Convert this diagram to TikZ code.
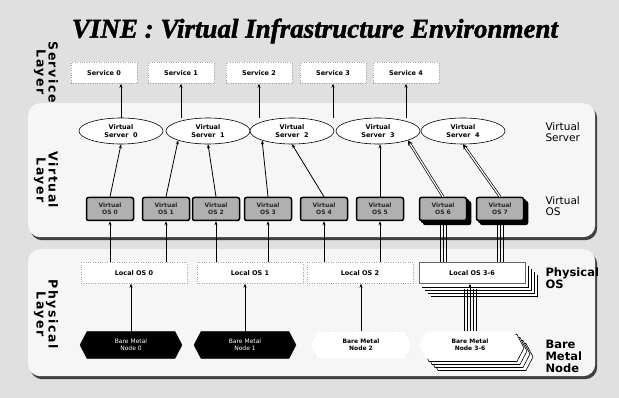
\documentclass[tikz,border=0pt]{standalone}
\usepackage{fontspec}
\setmainfont{Liberation Serif}
\setsansfont{DejaVu Sans}
\newfontfamily\titlefont[BoldItalicFeatures={FakeBold=1.6}]{Liberation Serif}
\newfontfamily\layerfont[BoldFeatures={LetterSpace=12}]{DejaVu Sans}
\usetikzlibrary{shapes.geometric,shapes.symbols,arrows.meta,shadows}
\tikzset{
  px/.style={x=1pt,y=-1pt},
  panel/.style={fill=white!93!gray,draw=none,rounded corners=12pt,
    drop shadow={shadow xshift=2pt,shadow yshift=-3pt,fill=black!75,opacity=1}},
  svcbox/.style={draw=gray!70,dotted,fill=white,minimum width=66pt,minimum height=21pt,font=\sffamily\bfseries\fontsize{6.5}{7}\selectfont,inner sep=1pt},
  vserver/.style={ellipse,draw=black,fill=white,line width=0.6pt,minimum width=84pt,minimum height=26pt,inner sep=0pt,align=center,font=\sffamily\bfseries\fontsize{6.5}{7.2}\selectfont},
  vos/.style={draw=black,line width=1.5pt,fill=gray!62,rounded corners=2pt,minimum width=47pt,minimum height=23pt,inner sep=0pt,align=center,font=\sffamily\bfseries\fontsize{6}{6.5}\selectfont,text=black!85},
  vosstack/.style={vos,double copy shadow={shadow xshift=2pt,shadow yshift=-2pt,fill=black,draw=black}},
  localos/.style={draw=gray!70,dotted,fill=white,minimum width=106pt,minimum height=21pt,font=\sffamily\bfseries\fontsize{6.5}{7}\selectfont,inner sep=1pt},
  localfront/.style={localos,draw=black!60,solid,line width=0.4pt},
  stackrect/.style={draw=black,fill=white,line width=0.6pt},
  bare/.style={signal,signal to=west and east,signal pointer angle=125,fill=black,draw=black,text=white,minimum width=102pt,minimum height=27pt,inner sep=1pt,align=center,font=\sffamily\fontsize{6}{6.8}\selectfont},
  barew/.style={bare,fill=white,draw=gray!70,dotted,text=black,font=\sffamily\bfseries\fontsize{6}{6.8}\selectfont},
  barestack/.style={bare,fill=white,draw=black,line width=0.6pt},
  conn/.style={-{Stealth[length=4pt,width=3pt]},line width=0.8pt,black},
  dconn/.style={-{Stealth[length=5pt,width=5pt]},double=white,double distance=1.2pt,line width=0.7pt,black},
  tconn/.style={line width=0.6pt,black},
  layer/.style={rotate=-90,font=\layerfont\bfseries\fontsize{12.5}{12}\selectfont,align=center},
  rlabel/.style={anchor=west,align=left,font=\sffamily\fontsize{10.5}{11}\selectfont},
  rlabelb/.style={anchor=west,align=left,font=\sffamily\bfseries\fontsize{11.5}{12}\selectfont},
}
\begin{document}
\begin{tikzpicture}[px]
\useasboundingbox (0,0) rectangle (619,398);
\fill[gray!24] (0,0) rectangle (619,398);
% panels
\node[panel,minimum width=567pt,minimum height=134pt,anchor=north west] (vpanel) at (28,103) {};
\node[panel,minimum width=567pt,minimum height=127pt,anchor=north west] (ppanel) at (28,249) {};
% title
\node (title) at (315,31) {\titlefont\fontsize{27}{27}\selectfont\bfseries\itshape VINE : Virtual Infrastructure Environment};
% layer labels
\node[layer] (lsvc) at (46,72) {Service\\Layer};
\node[layer] (lvirt) at (46,180) {Virtual\\Layer};
\node[layer] (lphys) at (46,314) {Physical\\Layer};
% right labels
\node[rlabel] (rvs) at (542,132) {Virtual\\Server};
\node[rlabel] (rvos) at (542,206) {Virtual\\OS};
\node[rlabelb] (rpos) at (542,278) {Physical\\OS};
\node[rlabelb] (rbm) at (542,356) {Bare\\Metal\\Node};
% services
\node[svcbox] (s0) at (104,73) {Service 0};
\node[svcbox] (s1) at (181,73) {Service 1};
\node[svcbox] (s2) at (259,73) {Service 2};
\node[svcbox] (s3) at (333,73) {Service 3};
\node[svcbox] (s4) at (406,73) {Service 4};
% virtual servers
\node[vserver] (v0) at (121,131) {Virtual\\Server\ \ 0};
\node[vserver] (v1) at (208,131) {Virtual\\Server\ \ 1};
\node[vserver] (v2) at (292,131) {Virtual\\Server\ \ 2};
\node[vserver] (v3) at (378,131) {Virtual\\Server\ \ 3};
\node[vserver] (v4) at (463,131) {Virtual\\Server\ \ 4};
% virtual OS
\node[vos] (o0) at (110,209) {Virtual\\OS 0};
\node[vos] (o1) at (166,209) {Virtual\\OS 1};
\node[vos] (o2) at (216,209) {Virtual\\OS 2};
\node[vos] (o3) at (268,209) {Virtual\\OS 3};
\node[vos] (o4) at (324,209) {Virtual\\OS 4};
\node[vos] (o5) at (380,209) {Virtual\\OS 5};
\node[vosstack] (o6) at (443,209) {Virtual\\OS 6};
\node[vosstack] (o7) at (500,209) {Virtual\\OS 7};
% local OS
\node[localos] (l0) at (134,273) {Local OS 0};
\node[localos] (l1) at (250,273) {Local OS 1};
\node[localos] (l2) at (360,273) {Local OS 2};
\foreach \k in {4,3,2,1}{
  \fill[stackrect,draw=none] (419+3*\k,263+3*\k) rectangle (525+3*\k,284+3*\k);
  \draw[black,line width=0.7pt] (419+3*\k,284+3*\k) -- (525+3*\k,284+3*\k) -- (525+3*\k,263+3*\k);
}
\node[localfront] (l3) at (472,273) {Local OS 3-6};
% bare metal
\node[bare] (b0) at (131,345) {Bare Metal\\Node 0};
\node[bare] (b1) at (245,345) {Bare Metal\\Node 1};
\node[barew] (b2) at (361,345) {Bare Metal\\Node 2};
\foreach \k in {4,3,2,1}{
  \node[barestack] (bs\k) at (470+3*\k,345+3*\k) {};
}
\node[bare,fill=white,text=black,draw=none,font=\sffamily\bfseries\fontsize{6}{6.8}\selectfont] (b3) at (470,345) {Bare Metal\\Node 3-6};
% service connectors
\draw[conn] (v0.north) -- (s0.south -| v0.north);
\draw[conn] (v1.north -| s1.south) -- (s1.south);
\draw[conn] (v2.north -| s2.south) -- (s2.south);
\draw[conn] (v3.north -| s3.south) -- (s3.south);
\draw[conn] (v4.north -| s4.south) -- (s4.south);
% VOS to VS
\draw[conn] (o0.north) -- (v0.south);
\draw[conn] (o1.north) -- (v1.south west);
\draw[conn] (o2.north) -- (v1.south);
\draw[conn] (o3.north) -- (v2.south west);
\draw[conn] (o4.north) -- (v2.south);
\draw[conn] (o5.north) -- (o5.north |- v3.south);
\draw[dconn] (o6.north) -- (v3.south east);
\draw[dconn] (o7.north) -- (v4.south);
% Local OS to VOS
\draw[conn] (l0.north -| o0.south) -- (o0.south);
\draw[conn] (l0.north -| o1.south) -- (o1.south);
\draw[conn] (l1.north -| o2.south) -- (o2.south);
\draw[conn] (l1.north -| o3.south) -- (o3.south);
\draw[conn] (l2.north -| o4.south) -- (o4.south);
\draw[conn] (l2.north -| o5.south) -- (o5.south);
\foreach \d in {-3,0,3}{
  \draw[tconn] ([xshift=\d pt]l3.north -| o6.south) -- ([xshift=\d pt,yshift=-3pt]o6.south);
  \draw[tconn] ([xshift=\d pt]l3.north -| o7.south) -- ([xshift=\d pt,yshift=-3pt]o7.south);
}
% bare metal to local OS
\draw[conn] (b0.north) -- (b0.north |- l0.south);
\draw[conn] (b1.north) -- (b1.north |- l1.south);
\draw[conn] (b2.north) -- (b2.north |- l2.south);
\foreach \d in {-6,-3,3,6}{
  \draw[tconn] ([xshift=\d pt]b3.north) -- ([xshift=\d pt,yshift=-5pt]b3.north |- l3.south);
}
\draw[conn] (b3.north) -- (b3.north |- l3.south);
\end{tikzpicture}
\end{document}
